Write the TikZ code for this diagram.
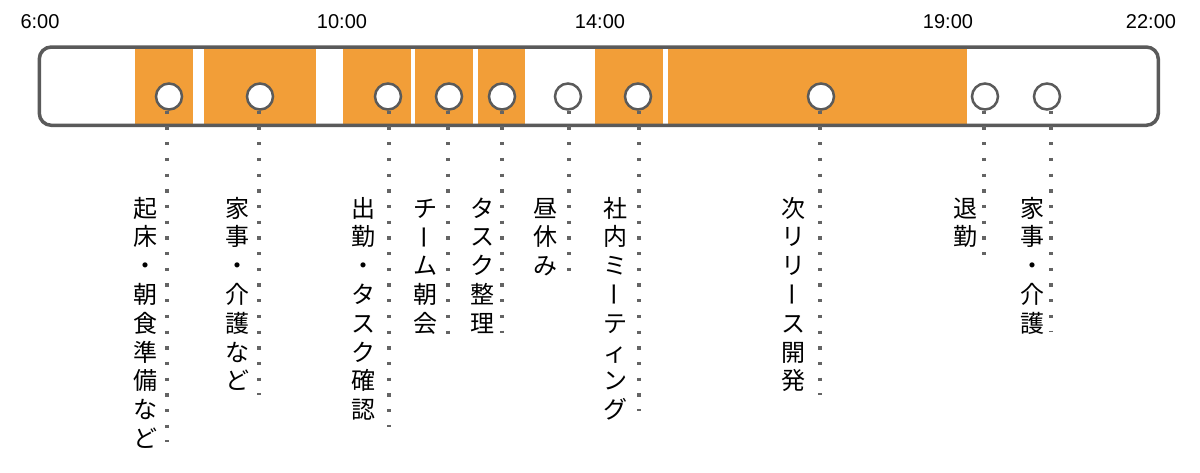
\documentclass[tikz,border=0pt]{standalone}
\usepackage{fontspec}
\newfontfamily\lat{Liberation Sans}
\newfontfamily\jp{Noto Sans CJK JP}
\definecolor{barc}{HTML}{F29E38}
\definecolor{framec}{HTML}{5A5A5A}
\definecolor{dotc}{HTML}{646464}
\newcommand\vcol[1]{\vtop{\baselineskip=28.8pt\lineskiplimit=-100pt\halign{\hfil##\hfil\cr#1\crcr}}}
\newcommand\vbar{\rotatebox[origin=c]{90}{\vphantom{国}ー}}
\tikzset{
  timebar/.style={fill=barc, draw=none},
  frameline/.style={draw=framec, line width=3.5pt, rounded corners=12pt},
  tl/.style={font=\lat\fontsize{20}{24}\selectfont, anchor=base, inner sep=0pt, text=black},
  pin/.style={circle, draw=framec, fill=white, line width=2.5pt, minimum size=26pt, inner sep=0pt},
  lbl/.style={font=\jp\fontsize{24}{28.8}\selectfont, anchor=base, inner sep=0pt, text=black},
  leader/.style={draw=dotc, line width=3.3pt, dash pattern=on 3.3pt off 12.4pt}
}
\begin{document}
\begin{tikzpicture}[x=1pt, y=-1pt]
\useasboundingbox (0,0) rectangle (1200,472);
\fill[white] (0,0) rectangle (1200,472);
% time labels
\node[tl] (t6) at (40,28) {6:00};
\node[tl] (t10) at (342,28) {10:00};
\node[tl] (t14) at (600,28) {14:00};
\node[tl] (t19) at (948,28) {19:00};
\node[tl] (t22) at (1151,28) {22:00};
% orange blocks
\fill[timebar] (135,47) rectangle (193,125);
\fill[timebar] (203.5,47) rectangle (316,125);
\fill[timebar] (343,47) rectangle (411,125);
\fill[timebar] (415,47) rectangle (473,125);
\fill[timebar] (478,47) rectangle (525,125);
\fill[timebar] (595,47) rectangle (663,125);
\fill[timebar] (668,47) rectangle (967,125);
% frame
\draw[frameline] (39.3,47) rectangle (1158.3,125.3);
% pins
\node[pin] (c1) at (169,96.5) {};
\node[pin] (c2) at (260,96.5) {};
\node[pin] (c3) at (388,96.5) {};
\node[pin] (c4) at (449,96.5) {};
\node[pin] (c5) at (502,96.5) {};
\node[pin] (c6) at (568,96.5) {};
\node[pin] (c7) at (638,96.5) {};
\node[pin] (c8) at (821,96.5) {};
\node[pin] (c9) at (985,96.5) {};
\node[pin] (c10) at (1047,96.5) {};
% leader ends
\coordinate (e1) at (167,442);
\coordinate (e2) at (259,395);
\coordinate (e3) at (389,427);
\coordinate (e4) at (448,335);
\coordinate (e5) at (502,333);
\coordinate (e6) at (569,271);
\coordinate (e7) at (639,411);
\coordinate (e8) at (820,395);
\coordinate (e9) at (984,258);
\coordinate (e10) at (1051,332);
\foreach \i in {1,...,10}{
  \draw[leader] (c\i.south -| e\i) -- (e\i);
}
% labels
\node[lbl] (l1) at (145,217) {\vcol{起\cr 床\cr ・\cr 朝\cr 食\cr 準\cr 備\cr な\cr ど}};
\node[lbl] (l2) at (237,217) {\vcol{家\cr 事\cr ・\cr 介\cr 護\cr な\cr ど}};
\node[lbl] (l3) at (363,217) {\vcol{出\cr 勤\cr ・\cr タ\cr ス\cr ク\cr 確\cr 認}};
\node[lbl] (l4) at (425,217) {\vcol{チ\cr \vbar\cr ム\cr 朝\cr 会}};
\node[lbl] (l5) at (482,217) {\vcol{タ\cr ス\cr ク\cr 整\cr 理}};
\node[lbl] (l6) at (545,217) {\vcol{昼\cr 休\cr み}};
\node[lbl] (l7) at (615,217) {\vcol{社\cr 内\cr ミ\cr \vbar\cr テ\cr ィ\cr ン\cr グ}};
\node[lbl] (l8) at (793,217) {\vcol{次\cr リ\cr リ\cr \vbar\cr ス\cr 開\cr 発}};
\node[lbl] (l9) at (965,217) {\vcol{退\cr 勤}};
\node[lbl] (l10) at (1032,217) {\vcol{家\cr 事\cr ・\cr 介\cr 護}};
\end{tikzpicture}
\end{document}
